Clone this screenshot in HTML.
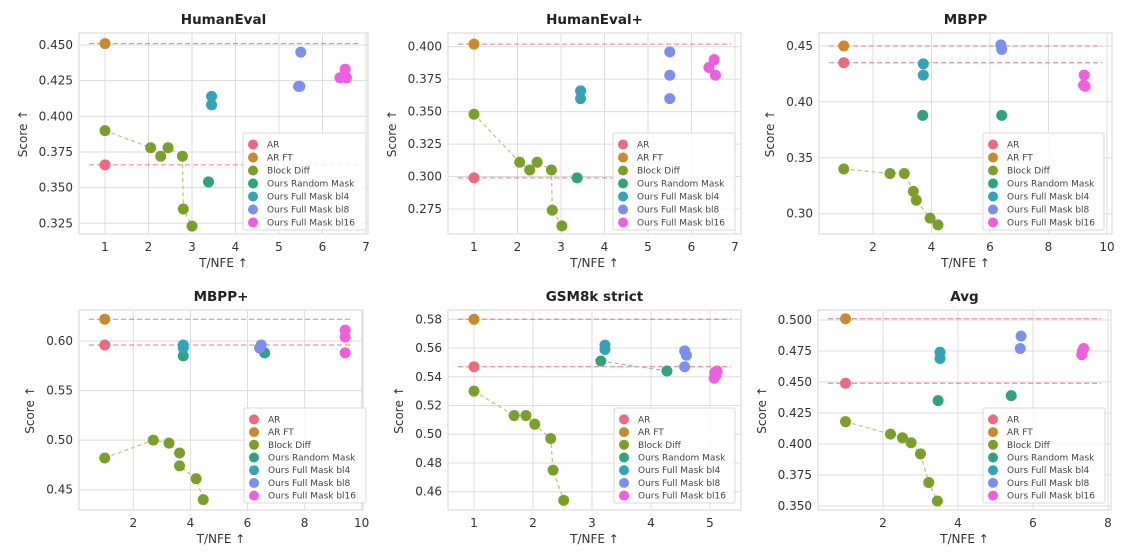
<!DOCTYPE html>
<html><head><meta charset="utf-8"><style>
html,body{margin:0;padding:0;background:#fff;}
svg{display:block;font-family:"DejaVu Sans","Liberation Sans",sans-serif;}
</style></head><body>
<svg id="fig" width="1126" height="558" viewBox="0 0 1126 558" xmlns="http://www.w3.org/2000/svg"></svg>
<script>
// ---- data (x = T/NFE, y = score) ----
const seriesNames=["AR","AR FT","Block Diff","Ours Random Mask","Ours Full Mask bl4","Ours Full Mask bl8","Ours Full Mask bl16"];
const heX=[[1],[1],[1,2.05,2.28,2.45,2.78,2.8,3.0],[3.38],[3.45,3.45],[5.5,5.45,5.48],[6.4,6.52,6.55]];
const heY=[[0.366],[0.451],[0.390,0.378,0.372,0.378,0.372,0.335,0.323],[0.354],[0.414,0.408],[0.445,0.421,0.421],[0.427,0.433,0.427]];
const hpX=[[1],[1],[1,2.05,2.28,2.45,2.78,2.8,3.02],[3.37],[3.45,3.45],[5.5,5.5,5.5],[6.4,6.52,6.55]];
const hpY=[[0.299],[0.402],[0.348,0.311,0.305,0.311,0.305,0.274,0.262],[0.299],[0.366,0.360],[0.396,0.378,0.360],[0.384,0.390,0.378]];
const mbX=[[1],[1],[1,2.58,3.07,3.38,3.48,3.95,4.22],[3.7,6.4],[3.72,3.72],[6.37,6.4],[9.22,9.2,9.25]];
const mbY=[[0.435],[0.450],[0.340,0.336,0.336,0.320,0.312,0.296,0.290],[0.388,0.388],[0.434,0.424],[0.451,0.447],[0.424,0.415,0.414]];
const mpX=[[1],[1],[1,2.7,3.25,3.62,3.62,4.2,4.45],[3.75,6.6],[3.75,3.75],[6.42,6.48],[9.42,9.42,9.42]];
const mpY=[[0.596],[0.622],[0.482,0.500,0.497,0.487,0.474,0.461,0.440],[0.585,0.588],[0.596,0.593],[0.593,0.596],[0.611,0.604,0.588]];
const gsX=[[1],[1],[1,1.68,1.88,2.03,2.3,2.34,2.52],[3.15,4.27],[3.22,3.22],[4.57,4.6,4.57],[5.08,5.1,5.07,5.12]];
const gsY=[[0.547],[0.580],[0.530,0.513,0.513,0.507,0.497,0.475,0.454],[0.551,0.544],[0.562,0.559],[0.558,0.555,0.547],[0.543,0.541,0.539,0.544]];
const avX=[[1],[1],[1,2.2,2.52,2.75,3.0,3.22,3.45],[3.47,5.42],[3.52,3.52],[5.68,5.66],[7.3,7.35,7.32]];
const avY=[[0.449],[0.501],[0.418,0.408,0.405,0.401,0.392,0.369,0.354],[0.435,0.439],[0.474,0.469],[0.487,0.477],[0.472,0.477,0.475]];
// tick labels
const heXt=[1,2,3,4,5,6,7], heYt=[0.325,0.350,0.375,0.400,0.425,0.450];
const hpXt=[1,2,3,4,5,6,7], hpYt=[0.275,0.300,0.325,0.350,0.375,0.400];
const mbXt=[2,4,6,8,10], mbYt=[0.30,0.35,0.40,0.45];
const mpXt=[2,4,6,8,10], mpYt=[0.45,0.50,0.55,0.60];
const gsXt=[1,2,3,4,5], gsYt=[0.46,0.48,0.50,0.52,0.54,0.56,0.58];
const avXt=[2,4,6,8], avYt=[0.350,0.375,0.400,0.425,0.450,0.475,0.500];
const titles=["HumanEval","HumanEval+","MBPP","MBPP+","GSM8k strict","Avg"];

const colors=["#ec6a80","#c98a2c","#7c9f2c","#30a27e","#34a3b8","#7a8ff0","#f05ee0"];
const NS="http://www.w3.org/2000/svg";
const svg=document.getElementById('fig');
function mk(tag,attrs,parent){const e=document.createElementNS(NS,tag);for(const k in attrs)e.setAttribute(k,attrs[k]);(parent||svg).appendChild(e);return e;}

const panels=[
 {X:heX,Y:heY,xt:heXt,yt:heYt,dec:3,rm:false,l:79,r:368,t:33,b:234,xa:[1,105,7,366],ya:[0.450,45,0.325,223.3],leg:[243,133,123,97],slug:'humaneval'},
 {X:hpX,Y:hpY,xt:hpXt,yt:hpYt,dec:3,rm:false,l:448,r:741,t:33,b:234,xa:[1,474,7,735],ya:[0.400,46.7,0.275,209],leg:[613,133,122,97],slug:'humaneval-plus'},
 {X:mbX,Y:mbY,xt:mbXt,yt:mbYt,dec:2,rm:false,l:819,r:1112,t:33,b:234,xa:[2,873,10,1107],ya:[0.45,46,0.30,213.7],leg:[983,133,121,97],slug:'mbpp'},
 {X:mpX,Y:mpY,xt:mpXt,yt:mpYt,dec:2,rm:false,l:79,r:363,t:310,b:510,xa:[2,133.3,10,361.7],ya:[0.60,341,0.45,489.7],leg:[244,408,122,95],slug:'mbpp-plus'},
 {X:gsX,Y:gsY,xt:gsXt,yt:gsYt,dec:2,rm:true,l:448,r:741,t:310,b:510,xa:[1,474,5,710],ya:[0.58,319.3,0.46,491.7],leg:[614,408,121,95],slug:'gsm8k'},
 {X:avX,Y:avY,xt:avXt,yt:avYt,dec:3,rm:false,l:818,r:1111,t:310,b:510,xa:[2,883,8,1108],ya:[0.500,320,0.350,506],leg:[983,408,122,95],slug:'avg'}
];

panels.forEach((p,pi)=>{
  const sx=v=>p.xa[1]+(v-p.xa[0])*(p.xa[3]-p.xa[1])/(p.xa[2]-p.xa[0]);
  const sy=v=>p.ya[1]+(v-p.ya[0])*(p.ya[3]-p.ya[1])/(p.ya[2]-p.ya[0]);
  const g=mk('g',{});
  
  
  mk('rect',{x:p.l,y:p.t,width:p.r-p.l,height:p.b-p.t,fill:'#fff',stroke:'#d4d4d4','stroke-width':1},g);
  p.xt.forEach(v=>{const x=sx(v);
    mk('line',{x1:x,x2:x,y1:p.t,y2:p.b,stroke:'#dcdcdc','stroke-width':1},g);
    const t=mk('text',{x:x,y:p.b+17,'text-anchor':'middle','font-size':12,fill:'#333'},g);t.textContent=v;
    
    });
  p.yt.forEach(v=>{const y=sy(v);
    mk('line',{x1:p.l,x2:p.r,y1:y,y2:y,stroke:'#dcdcdc','stroke-width':1},g);
    const t=mk('text',{x:p.l-6,y:y+4,'text-anchor':'end','font-size':12,fill:'#333'},g);t.textContent=v.toFixed(p.dec);
    
    });
  const cx=(p.l+p.r)/2;
  const tt=mk('text',{x:cx,y:p.t-9,'text-anchor':'middle','font-size':13.5,'font-weight':'bold',fill:'#222'},g);tt.textContent=titles[pi];
  
  
  const xl=mk('text',{x:cx,y:p.b+33,'text-anchor':'middle','font-size':12,fill:'#333'},g);xl.textContent='T/NFE ↑';
  
  
  const ylx=p.l-(p.dec===3?52:45), yly=(p.t+p.b)/2;
  const yl=mk('text',{x:ylx,y:yly,'text-anchor':'middle','font-size':12,fill:'#333',transform:`rotate(-90 ${ylx} ${yly})`},g);yl.textContent='Score ↑';
  
  
  [0,1].forEach(si=>{const y=sy(p.Y[si][0]);
    const ln=mk('line',{x1:p.l+10,x2:p.r-10,y1:y,y2:y,stroke:'#e85a5a','stroke-width':1,'stroke-dasharray':'5,3','stroke-opacity':0.8},g);
    
    });
  const lineSeries=p.rm?[2,3]:[2];
  lineSeries.forEach(si=>{const pts=p.X[si].map((x,i)=>[x,p.Y[si][i]]).sort((a,b)=>a[0]-b[0]);
    if(pts.length<2)return;
    const pl=mk('polyline',{points:pts.map(q=>sx(q[0])+','+sy(q[1])).join(' '),fill:'none',stroke:si===2?'#b9c47c':'#8fbfa8','stroke-width':1.2,'stroke-dasharray':'4,3'},g);
    
    });
  p.X.forEach((xs,si)=>{xs.forEach((x,i)=>{
    const c=mk('circle',{cx:sx(x),cy:sy(p.Y[si][i]),r:5.5,fill:colors[si]},g);
    
    });});
  const [lx,ly,lw,lh]=p.leg;
  const lg=mk('g',{},g);
  
  
  mk('rect',{x:lx,y:ly,width:lw,height:lh,fill:'#fff','fill-opacity':0.85,stroke:'#d8d8d8','stroke-width':1,rx:2},lg);
  const step=(lh-6)/7;
  seriesNames.forEach((n,si)=>{const y=ly+5+step*(si+0.5);
    const e=mk('g',{},lg);
    
    
    mk('circle',{cx:lx+10,cy:y,r:5,fill:colors[si]},e);
    const t=mk('text',{x:lx+24,y:y+3,'font-size':9,fill:'#444'},e);t.textContent=n;});
});
</script>
</body></html>
